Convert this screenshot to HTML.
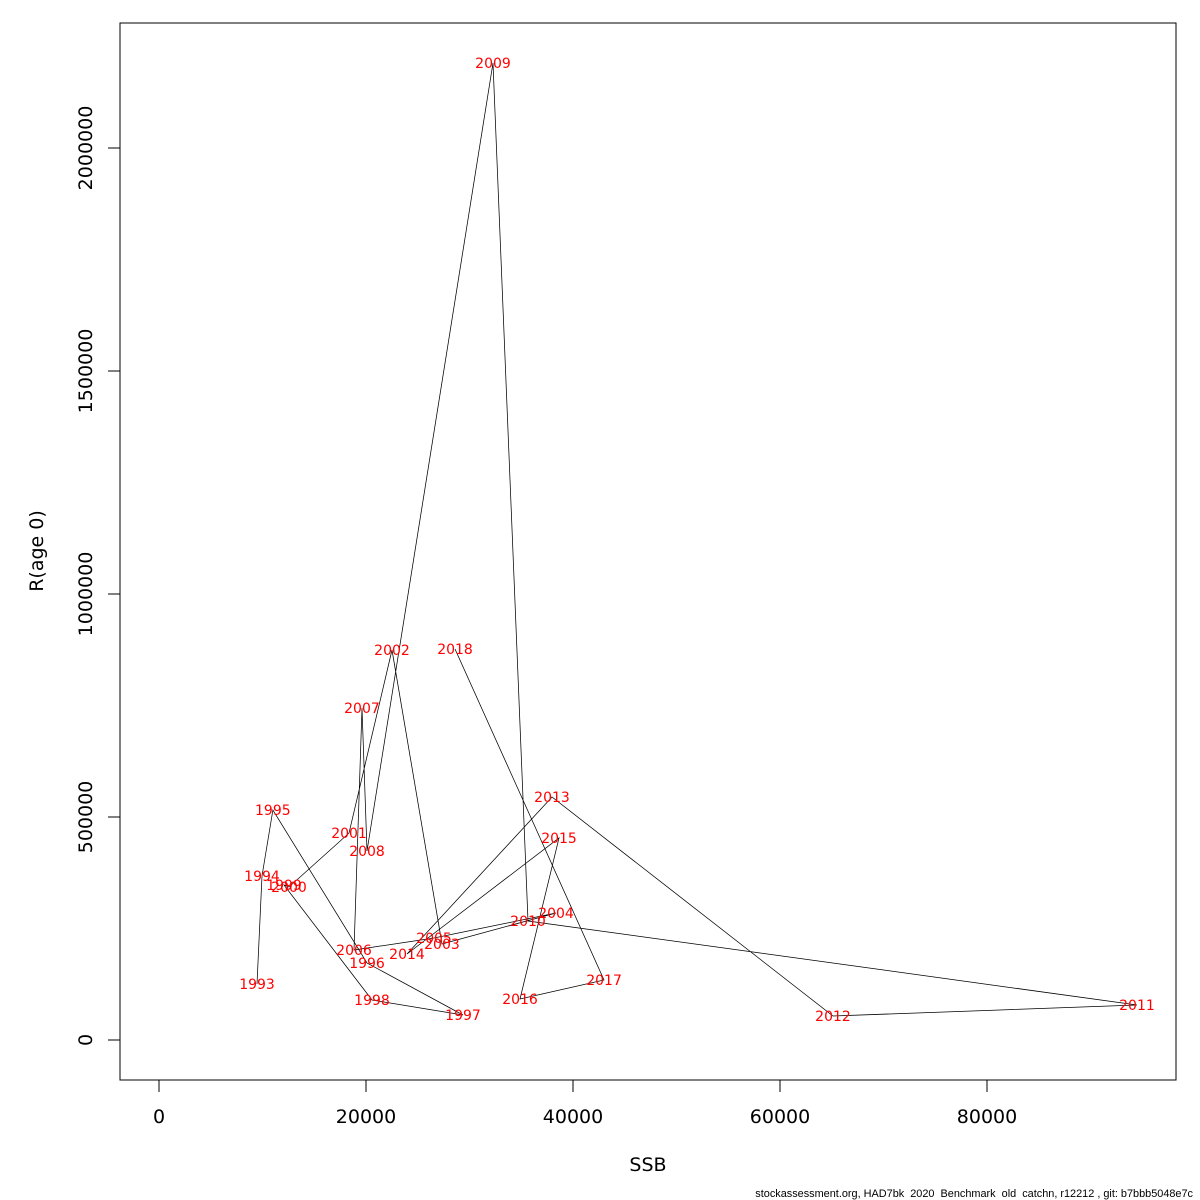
<!DOCTYPE html>
<html><head><meta charset="utf-8"><style>
html,body{margin:0;padding:0;background:#fff}
svg{display:block;font-family:"DejaVu Sans","Liberation Sans",sans-serif}
</style></head><body>
<svg id="chart" width="1200" height="1200"></svg>
<script>
const years=[1993,1994,1995,1996,1997,1998,1999,2000,2001,2002,2003,2004,2005,2006,2007,2008,2009,2010,2011,2012,2013,2014,2015,2016,2017,2018];
const ssb=[9470,9950,11000,20100,29370,20580,12080,12560,18360,22510,27340,38360,26570,18840,19610,20100,32270,35650,94490,65120,37970,23960,38650,34880,43000,28600];
const rec=[125600,367700,515700,172600,56000,89700,347500,343000,464000,874400,215200,284700,228700,201800,744400,423800,2190600,266800,78500,53800,544800,192800,452900,91900,134500,876700];
const xTicks=[0,20000,40000,60000,80000];
const yTicks=[0,500000,1000000,1500000,2000000];
const NS="http://www.w3.org/2000/svg";
const svg=document.getElementById('chart');
const X=v=>159+v*0.01035;
const Y=v=>1040-v*0.000446;
function mk(t,a,txt){const e=document.createElementNS(NS,t);for(const k in a)e.setAttribute(k,a[k]);if(txt!==undefined)e.textContent=txt;svg.appendChild(e);return e;}
const box=mk('rect',{x:120,y:23,width:1056,height:1057,fill:'none',stroke:'#000','stroke-width':1});


const xa=mk('line',{x1:X(0),x2:X(80000),y1:1080,y2:1080,stroke:'#000'});


xTicks.forEach(t=>{
 const l=mk('line',{x1:X(t),x2:X(t),y1:1080,y2:1092,stroke:'#000'});
 
 
 const s=mk('text',{x:X(t),y:1123,'font-size':19,'text-anchor':'middle'},String(t));
 
 
});
const ya=mk('line',{x1:120,x2:120,y1:Y(0),y2:Y(2000000),stroke:'#000'});


yTicks.forEach(t=>{
 const l=mk('line',{x1:108,x2:120,y1:Y(t),y2:Y(t),stroke:'#000'});
 
 
 const s=mk('text',{x:92,y:Y(t),'font-size':19,'text-anchor':'middle',transform:`rotate(-90 92 ${Y(t)})`},String(t));
 
 
});
const xt=mk('text',{x:648,y:1171,'font-size':19,'text-anchor':'middle'},'SSB');


const yt=mk('text',{x:43,y:551,'font-size':19,'text-anchor':'middle',transform:'rotate(-90 43 551)'},'R(age 0)');


const pts=years.map((y,i)=>X(ssb[i]).toFixed(1)+','+Y(rec[i]).toFixed(1)).join(' ');
const pl=mk('polyline',{points:pts,fill:'none',stroke:'#000','stroke-width':0.75});


years.forEach((y,i)=>{
 const t=mk('text',{x:X(ssb[i]),y:Y(rec[i])+5,'font-size':14,fill:'#ff0000','text-anchor':'middle'},String(y));
 
 
});
const ft=mk('text',{x:1193,y:1197,'font-size':10.9,'text-anchor':'end','font-family':'Liberation Sans, sans-serif'},'stockassessment.org, HAD7bk  2020  Benchmark  old  catchn, r12212 , git: b7bbb5048e7c');


ft.setAttribute('xml:space','preserve');
ft.style.whiteSpace='pre';
</script>
</body></html>
